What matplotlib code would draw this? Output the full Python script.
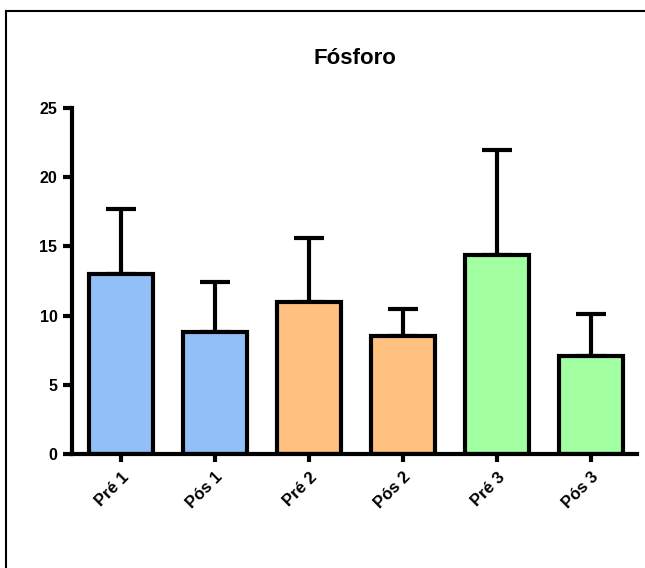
import matplotlib.pyplot as plt
import numpy as np

plt.rcParams['font.family'] = ['Liberation Sans', 'DejaVu Sans']

# Data
groups = ['Pré 1', 'Pós 1', 'Pré 2', 'Pós 2', 'Pré 3', 'Pós 3']
means = [13.0, 8.8, 11.0, 8.5, 14.4, 7.1]
upper = [17.7, 12.4, 15.6, 10.5, 22.0, 10.1]
colors = ['#93bff8', '#93bff8', '#ffc080', '#ffc080', '#a2ffa2', '#a2ffa2']

fig = plt.figure(figsize=(6.45, 5.68), dpi=100)

# Frame around the graph (only top and left visible in the reference)
fig.add_artist(plt.Line2D([6/645, 6/645], [0, 1 - 11/568], color='black', lw=1.5))
fig.add_artist(plt.Line2D([6/645, 1], [1 - 11/568, 1 - 11/568], color='black', lw=1.5))

ax = fig.add_axes([72/645, 114/568, 565/645, 346/568])

x = np.arange(len(groups))
err = np.array(upper) - np.array(means)

ax.errorbar(x, means, yerr=[np.zeros(len(x)), err], fmt='none', ecolor='black',
            elinewidth=3, capsize=11, capthick=3, zorder=1)
ax.bar(x, means, width=0.68, color=colors, edgecolor='black', linewidth=3, zorder=2)

ax.set_xlim(-0.52, 5.49)
ax.set_ylim(0, 25)
ax.set_yticks([0, 5, 10, 15, 20, 25])

for s in ['top', 'right']:
    ax.spines[s].set_visible(False)
for s in ['left', 'bottom']:
    ax.spines[s].set_linewidth(3)

ax.tick_params(axis='y', length=6.5, width=3, labelsize=11.5, pad=4)
ax.tick_params(axis='x', length=6, width=3, labelsize=12, pad=5)
ax.set_xticks(x)
ax.set_xticklabels(groups, rotation=45, ha='right', rotation_mode='anchor', fontweight='bold')
for lab in ax.get_yticklabels():
    lab.set_fontweight('bold')

fig.text(355/645, 1 - 58/568, 'Fósforo', ha='center', va='center',
         fontsize=16, fontweight='bold')

fig.savefig('out.png', dpi=100)
